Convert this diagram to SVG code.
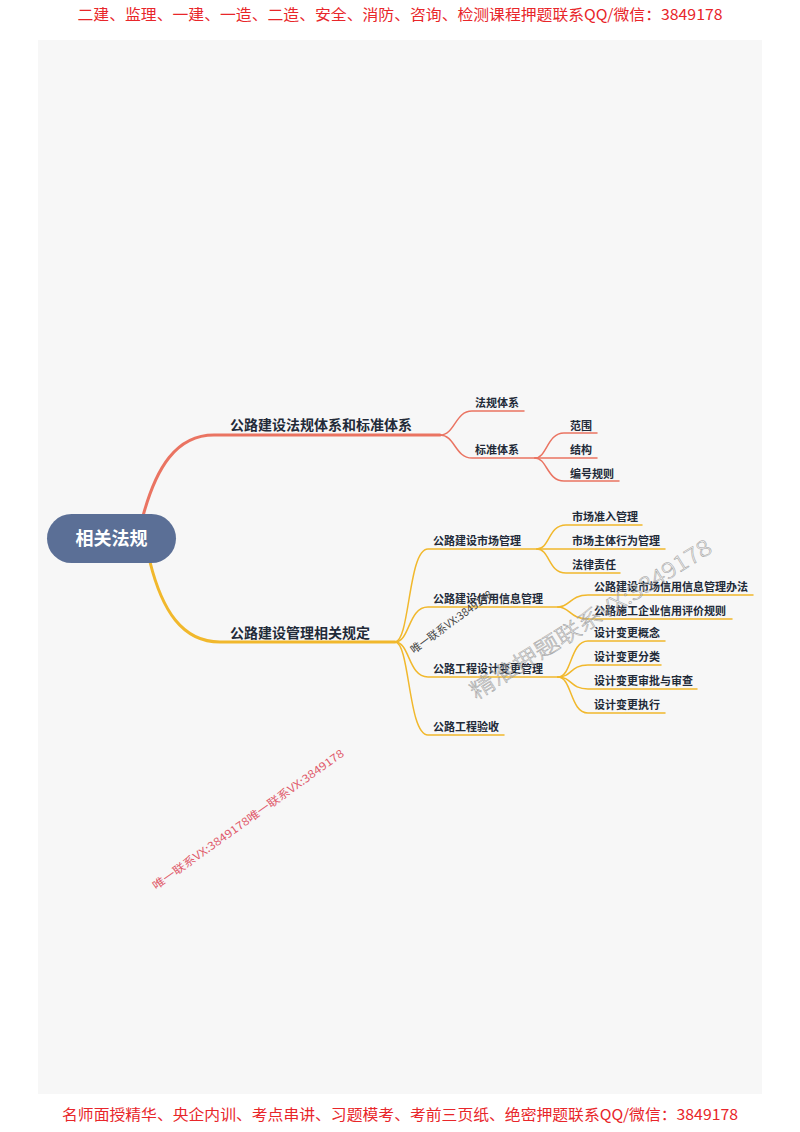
<svg xmlns="http://www.w3.org/2000/svg" width="800" height="1132" viewBox="0 0 800 1132">
<style>
.hdr{font-family:"Noto Sans CJK SC","Liberation Sans",sans-serif;font-size:15px;fill:#e8262a;}
.t1{font-family:"Noto Sans CJK SC",sans-serif;font-size:14px;font-weight:700;fill:#222a38;}
.t2{font-family:"Noto Sans CJK SC",sans-serif;font-size:11px;font-weight:700;fill:#222a38;}
.root{font-family:"Noto Sans CJK SC",sans-serif;font-size:18px;font-weight:700;fill:#ffffff;}
.red{fill:none;stroke:#ea7462;stroke-linecap:round;}
.yel{fill:none;stroke:#f1b82c;stroke-linecap:round;}
.wm{font-family:"Noto Sans CJK SC","Liberation Sans",sans-serif;}
</style>
<rect width="800" height="1132" fill="#ffffff"/>
<rect x="38" y="40" width="724" height="1054" fill="#f7f7f7"/>
<text class="hdr" x="400" y="20" text-anchor="middle" textLength="645" lengthAdjust="spacingAndGlyphs">二建、监理、一建、一造、二造、安全、消防、咨询、检测课程押题联系QQ/微信：3849178</text>
<text class="hdr" x="400" y="1120" text-anchor="middle" textLength="676" lengthAdjust="spacingAndGlyphs">名师面授精华、央企内训、考点串讲、习题模考、考前三页纸、绝密押题联系QQ/微信：3849178</text>
<g id="connectors">
<path class="red" stroke-width="3" d="M143 516 C156 468 176 435 214 435 L440 435"/>
<path class="red" stroke-width="1.5" d="M440 435 C455 435 455 411 472 411 L524 411"/>
<path class="red" stroke-width="1.5" d="M440 435 C455 435 455 458 472 458 L535 458"/>
<path class="red" stroke-width="1.5" d="M535 458 C547 458 547 433 564 433 L597 433"/>
<path class="red" stroke-width="1.5" d="M535 458 L597 458"/>
<path class="red" stroke-width="1.5" d="M535 458 C547 458 547 481 564 481 L619 481"/>
<path class="yel" stroke-width="3" d="M150 562 C162 610 182 642 220 642 L395 642"/>
<path class="yel" stroke-width="1.5" d="M395 642 C410 642 408 549 428 549 L537 549"/>
<path class="yel" stroke-width="1.5" d="M395 642 C410 642 408 607 428 607 L558 607"/>
<path class="yel" stroke-width="1.5" d="M395 642 C410 642 408 677 428 677 L558 677"/>
<path class="yel" stroke-width="1.5" d="M395 642 C410 642 408 735 428 735 L504 735"/>
<path class="yel" stroke-width="1.5" d="M537 549 C550 549 548 525 566 525 L642 525"/>
<path class="yel" stroke-width="1.5" d="M537 549 L665 549"/>
<path class="yel" stroke-width="1.5" d="M537 549 C550 549 548 573 566 573 L620 573"/>
<path class="yel" stroke-width="1.5" d="M558 607 C570 607 570 595 588 595 L753 595"/>
<path class="yel" stroke-width="1.5" d="M558 607 C570 607 570 619 588 619 L732 619"/>
<path class="yel" stroke-width="1.5" d="M558 677 C572 677 570 641 588 641 L665 641"/>
<path class="yel" stroke-width="1.5" d="M558 677 C572 677 570 665 588 665 L661 665"/>
<path class="yel" stroke-width="1.5" d="M558 677 C572 677 570 689 588 689 L697 689"/>
<path class="yel" stroke-width="1.5" d="M558 677 C572 677 570 713 588 713 L665 713"/>
</g>
<g id="root"><rect x="47" y="514" width="129" height="49" rx="24.5" fill="#5b6f96"/><text class="root" x="111.5" y="545" text-anchor="middle">相关法规</text></g>
<g id="n1"><text class="t1" x="230" y="430">公路建设法规体系和标准体系</text></g>
<g id="n1a"><text class="t2" x="475" y="407">法规体系</text></g>
<g id="n1b"><text class="t2" x="475" y="454">标准体系</text></g>
<g id="n1b1"><text class="t2" x="570" y="430">范围</text></g>
<g id="n1b2"><text class="t2" x="570" y="454">结构</text></g>
<g id="n1b3"><text class="t2" x="570" y="478">编号规则</text></g>
<g id="n2"><text class="t1" x="230" y="638">公路建设管理相关规定</text></g>
<g id="n2a"><text class="t2" x="433" y="545">公路建设市场管理</text></g>
<g id="n2a1"><text class="t2" x="572" y="521">市场准入管理</text></g>
<g id="n2a2"><text class="t2" x="572" y="545">市场主体行为管理</text></g>
<g id="n2a3"><text class="t2" x="572" y="569">法律责任</text></g>
<g id="n2b"><text class="t2" x="433" y="603">公路建设信用信息管理</text></g>
<g id="n2b1"><text class="t2" x="594" y="591">公路建设市场信用信息管理办法</text></g>
<g id="n2b2"><text class="t2" x="594" y="615">公路施工企业信用评价规则</text></g>
<g id="n2c"><text class="t2" x="433" y="673">公路工程设计变更管理</text></g>
<g id="n2c1"><text class="t2" x="594" y="637">设计变更概念</text></g>
<g id="n2c2"><text class="t2" x="594" y="661">设计变更分类</text></g>
<g id="n2c3"><text class="t2" x="594" y="685">设计变更审批与审查</text></g>
<g id="n2c4"><text class="t2" x="594" y="709">设计变更执行</text></g>
<g id="n2d"><text class="t2" x="433" y="731">公路工程验收</text></g>
<text class="wm" font-size="11" fill="#444" transform="translate(414,654) rotate(-36)" textLength="98" lengthAdjust="spacingAndGlyphs">唯一联系VX:3849178</text>
<text class="wm" font-size="22" font-weight="300" fill="none" stroke="#a0a0a0" stroke-width="0.5" transform="translate(476,700) rotate(-32)" textLength="280" lengthAdjust="spacingAndGlyphs">精准押题联系VX:3849178</text>
<text class="wm" font-size="11" fill="#e05a6a" transform="translate(156,890) rotate(-35.5)" textLength="232" lengthAdjust="spacingAndGlyphs">唯一联系VX:3849178唯一联系VX:3849178</text>
</svg>
